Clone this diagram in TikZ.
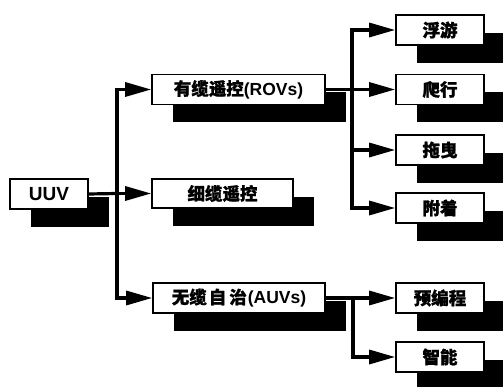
\documentclass[tikz,border=0pt]{standalone}
\usepackage{fontspec}
\setmainfont{Liberation Sans}
\newfontfamily\cjk{Noto Sans CJK SC}[BoldFeatures={FakeBold=1.2}]
\usetikzlibrary{arrows.meta,shadows}
\begin{document}
\begin{tikzpicture}[x=1pt,y=-1pt,
  box/.style={draw=black,line width=1.6pt,fill=white,minimum height=30pt,inner sep=0pt,
    font=\fontsize{17.5}{20}\selectfont\bfseries,
    drop shadow={shadow xshift=21pt,shadow yshift=-18pt,opacity=1,fill=black}},
  conn/.style={line width=3.2pt,line cap=rect},
  arr/.style={line width=3.2pt,-{Triangle[length=26pt,width=14pt]}}]
\useasboundingbox[fill=white] (0,0) rectangle (503,387);
% boxes
\node[box,minimum width=78pt,font=\fontsize{19}{20}\selectfont\bfseries] (uuv) at (49,194) {UUV};
\node[box,minimum width=173pt] (rov) at (238.5,89.5) {{\cjk 有缆遥控}(ROVs)};
\node[box,minimum width=141pt,minimum height=29pt] (xl) at (222.5,193.5) {\cjk 细缆遥控};
\node[box,minimum width=172pt] (auv) at (239,298) {{\cjk 无缆\hspace{2pt}自\hspace{3pt}治\hspace{1pt}}(AUVs)};
\node[box,minimum width=88pt] (fy) at (440,30) {\cjk 浮游};
\node[box,minimum width=88pt] (px) at (440,89.5) {\cjk 爬行};
\node[box,minimum width=88pt] (tz) at (440,150) {\cjk 拖曳};
\node[box,minimum width=88pt] (fz) at (440,208) {\cjk 附着};
\node[box,minimum width=88pt] (ybc) at (440,298) {\cjk 预编程};
\node[box,minimum width=88pt] (zn) at (440,357) {\cjk 智能};
% junction points
\coordinate (j0) at (117,193.5);
\coordinate (ja) at (117,89.5);
\coordinate (jb) at (117,298);
\coordinate (r0) at (352,89.5);
\coordinate (r1) at (352,30);
\coordinate (r3) at (352,150);
\coordinate (r4) at (352,208);
\coordinate (a0) at (353,298);
\coordinate (a1) at (353,357);
% connectors
\draw[conn] (uuv.east) -- (j0);
\draw[conn] (ja) -- (jb);
\draw[arr] (j0) -- (xl.west);
\draw[arr] (ja) -- (rov.west);
\draw[arr] (jb) -- (auv.west);
\draw[conn] (rov.east) -- (r0);
\draw[conn] (r1) -- (r4);
\draw[arr] (r1) -- (fy.west);
\draw[arr] (r0) -- (px.west);
\draw[arr] (r3) -- (tz.west);
\draw[arr] (r4) -- (fz.west);
\draw[conn] (auv.east) -- (a0);
\draw[conn] (a0) -- (a1);
\draw[arr] (a0) -- (ybc.west);
\draw[arr] (a1) -- (zn.west);
\end{tikzpicture}
\end{document}
